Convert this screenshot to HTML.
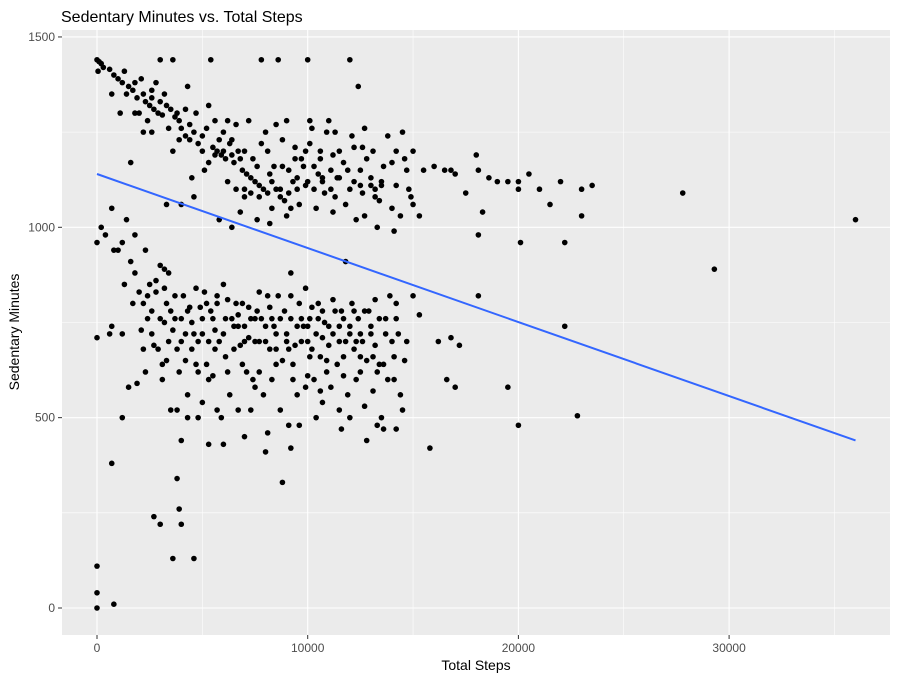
<!DOCTYPE html>
<html><head><meta charset="utf-8"><style>
body{margin:0;background:#fff;}
svg text{font-family:"Liberation Sans",Arial,sans-serif;}
</style></head><body>
<svg id="chart" width="900" height="681" xmlns="http://www.w3.org/2000/svg">
<rect width="900" height="681" fill="#fff"/>
<text x="61" y="22" font-size="16" fill="#000">Sedentary Minutes vs. Total Steps</text>
<rect x="62" y="30" width="828" height="605" fill="#ebebeb"/>
<g id="grid"></g>
<g id="points"></g>
<g id="trend"></g>
<g id="axes"></g>
<text x="476" y="670" font-size="14" text-anchor="middle" fill="#000">Total Steps</text>
<text transform="translate(19,332) rotate(-90)" font-size="14" text-anchor="middle" fill="#000">Sedentary Minutes</text>
</svg>
<script>
const xTicks=[0,10000,20000,30000];
const xMinor=[5000,15000,25000,35000];
const yTicks=[0,500,1000,1500];
const yMinor=[250,750,1250];
const trendStart=[0,1140];
const trendEnd=[36000,440];
const steps=[0,100,200,50,300,600,800,1000,1200,1500,1400,1700,1900,2100,2300,2500,2700,2900,3100,3300,3500,3700,3900,2000,2200,2600,3000,3600,4000,4200,4400,4600,4800,5000,5200,5400,5500,5700,5900,6100,6300,6500,6700,6900,7100,7300,7500,7700,7800,7900,8100,8300,8500,8600,8700,8900,9100,9300,9500,9700,9900,10000,10100,10300,10500,10700,10900,11100,11300,11500,11700,11900,12000,12200,12400,12600,12800,13000,13200,13400,13600,13800,14000,14200,14400,14600,14800,15000,15500,16000,16500,17000,17500,18000,18100,18300,18600,19000,19500,20000,20500,21000,21500,22000,22200,23000,23500,23000,27800,36000,29300,20100,18100,3400,3800,4700,5300,6000,6600,7200,8000,8800,9400,10200,11000,12100,13100,14500,2600,1600,3300,4600,5800,6800,7600,8200,9000,9600,10400,11200,12300,13300,14100,4000,4500,5100,6200,7000,8400,9200,10800,11800,12700,700,1100,1300,1800,2400,3200,4300,5600,6400,7400,8100,9800,10600,11400,12500,13500,14700,15300,16800,20000,
200,0,400,800,1000,1200,700,1400,0,600,700,1200,1300,1600,1800,2000,2200,2400,2600,2800,3000,3200,3400,3600,3800,4000,4200,4400,4600,4800,5000,5200,5400,5600,5800,6000,6200,6400,6600,6800,7000,7200,7400,7600,7800,8000,8200,8400,8600,8800,9000,9200,9400,9600,9800,10000,10200,10400,10600,10800,11000,11200,11400,11600,11800,12000,12200,12400,12600,12800,13000,13200,13400,13600,13800,14000,14200,14400,14600,15000,15300,16200,16600,17000,17200,18100,19500,20000,22200,22800,15800,14200,13600,12800,11600,9200,8800,8000,7000,6000,5300,4800,4000,4600,3600,3000,2700,3900,3800,4000,1200,700,800,0,0,0,1500,1900,2300,2700,3100,3500,3300,4300,5000,5500,5900,6300,6700,7100,7500,7900,8300,8700,9100,9500,9900,10300,10700,11100,11500,11900,12300,12700,13100,13500,14500,2100,2500,2900,3300,3700,4100,4500,4900,5300,5700,6100,6500,6900,7300,7700,8100,8500,8900,9300,9700,10100,10500,10900,11300,11700,12100,12500,12900,13300,13700,14100,14700,1700,2200,2600,3400,4200,5100,5600,6700,7500,8300,9100,9900,10700,11500,12300,13100,13900,16800,3800,14300,10000,
5600,6000,6400,7000,7300,7700,8300,8700,9100,9500,9900,10300,10700,11100,11500,12000,12500,13000,13500,6600,7600,8200,8800,9400,10000,10600,11200,12200,13200,14200,5000,4400,3900,3000,2600,2200,1800,2800,3600,4200,5800,6200,7000,7800,9000,10100,11300,12600,14000,14900,15000,12700,8500,6800,5300,
3000,3500,4000,4500,5000,5500,6000,6500,7000,7500,8000,8500,9000,9500,10000,10500,11000,11500,12000,12500,13000,2400,2800,3200,3700,4300,4700,5200,5700,6200,6700,7200,7700,8200,8700,9200,9700,10200,10700,11200,11700,12200,12700,13200,13700,14200,3100,3900,4700,5300,6100,6900,7700,8500,9300,10100,10900,11700,12500,13400,14100,4300,5700,8100,9600,10400,12000,13300,2300,3200,1800,6400,9200,11800,4800,7300,10600];
const sedentary=[1440,1435,1430,1410,1420,1415,1400,1390,1380,1370,1350,1360,1340,1390,1330,1320,1310,1300,1295,1320,1310,1290,1280,1300,1250,1360,1440,1440,1260,1240,1230,1250,1220,1240,1260,1440,1210,1200,1190,1180,1220,1170,1200,1150,1140,1130,1120,1110,1440,1100,1090,1120,1100,1440,1080,1070,1150,1120,1100,1180,1200,1440,1220,1160,1140,1120,1250,1100,1080,1200,1170,1150,1440,1120,1370,1090,1180,1110,1100,1070,1160,1240,1050,1200,1030,1180,1100,1060,1150,1160,1150,1140,1090,1190,980,1040,1130,1120,1120,1120,1140,1100,1060,1120,960,1100,1110,1030,1090,1020,890,960,1150,1260,1300,1300,1320,1250,1270,1280,1250,1230,1210,1260,1280,1240,1200,1250,1250,1170,1060,1080,1020,1040,1020,1010,1030,1060,1050,1040,1020,1000,990,1060,1130,1150,1120,1080,1160,1050,1090,1060,1030,1350,1300,1410,1300,1280,1350,1370,1280,1230,1180,1200,1160,1180,1130,1110,1120,1150,1030,1150,1100,
1000,960,980,940,940,960,1050,1020,710,720,740,720,850,910,880,830,800,760,780,830,900,750,700,730,680,760,650,790,720,700,760,640,780,730,700,850,620,760,800,690,740,710,600,780,760,700,680,740,820,650,720,760,690,800,740,700,680,720,660,750,690,720,640,780,700,740,680,760,700,650,720,690,760,640,600,700,800,560,650,820,770,700,600,580,690,820,580,480,740,505,420,470,470,440,470,420,330,410,450,430,430,500,440,130,130,220,240,260,340,220,500,380,10,0,40,110,580,590,620,690,600,520,650,560,540,610,500,560,520,620,580,560,600,520,480,560,580,600,540,580,520,560,600,530,570,500,520,730,850,680,800,760,820,680,790,700,820,760,680,800,760,700,820,640,780,640,700,760,800,650,780,610,800,660,780,620,720,660,700,800,680,720,880,720,830,680,740,700,760,680,840,710,740,700,660,820,710,520,720,610,
1190,1200,1190,1100,1090,1080,1050,1100,1090,1130,1110,1100,1130,1150,1130,1100,1150,1130,1110,1100,1160,1140,1160,1180,1120,1200,1190,1210,1080,1110,1200,1270,1230,1330,1340,1350,1380,1380,1200,1310,1230,1280,1200,1220,1280,1280,1250,1210,1170,1080,1200,1260,1270,1180,1170,
760,780,700,750,720,760,720,740,700,760,740,720,700,740,740,760,740,700,720,720,740,820,860,840,820,780,840,800,800,810,770,790,830,790,760,820,760,790,780,810,760,780,780,810,760,760,640,620,640,600,660,640,620,680,600,660,620,660,620,640,600,500,520,460,480,500,500,480,940,890,980,1000,880,910,620,520,570];
const NS="http://www.w3.org/2000/svg";
const PX0=62,PX1=890,PY0=30,PY1=635;
function xScale(v){return 97+v*0.021070;}
function yScale(v){return 608-v*0.3807;}
const grid=document.getElementById('grid');
function line(g,x1,y1,x2,y2,stroke,w){const l=document.createElementNS(NS,'line');l.setAttribute('x1',x1);l.setAttribute('y1',y1);l.setAttribute('x2',x2);l.setAttribute('y2',y2);l.setAttribute('stroke',stroke);l.setAttribute('stroke-width',w);g.appendChild(l);return l;}
yMinor.forEach(v=>{const l=line(grid,PX0,yScale(v),PX1,yScale(v),'#fff',0.55);

});
xMinor.forEach(v=>{const l=line(grid,xScale(v),PY0,xScale(v),PY1,'#fff',0.55);

});
yTicks.forEach(v=>{const l=line(grid,PX0,yScale(v),PX1,yScale(v),'#fff',1.1);

});
xTicks.forEach(v=>{const l=line(grid,xScale(v),PY0,xScale(v),PY1,'#fff',1.1);

});
const axes=document.getElementById('axes');
yTicks.forEach(v=>{const y=yScale(v);const tk=line(axes,58,y,62,y,'#333',1);


const t=document.createElementNS(NS,'text');t.setAttribute('x',55);t.setAttribute('y',y+4);t.setAttribute('text-anchor','end');t.setAttribute('font-size','12');t.setAttribute('fill','#4d4d4d');t.textContent=v;


axes.appendChild(t);});
xTicks.forEach(v=>{const x=xScale(v);const tk=line(axes,x,635,x,639,'#333',1);


const t=document.createElementNS(NS,'text');t.setAttribute('x',x);t.setAttribute('y',652);t.setAttribute('text-anchor','middle');t.setAttribute('font-size','12');t.setAttribute('fill','#4d4d4d');t.textContent=v;


axes.appendChild(t);});
const pts=document.getElementById('points');
const n=Math.min(steps.length,sedentary.length);
for(let i=0;i<n;i++){const c=document.createElementNS(NS,'circle');c.setAttribute('cx',xScale(steps[i]));c.setAttribute('cy',yScale(sedentary[i]));c.setAttribute('r',2.8);c.setAttribute('fill','#000');


pts.appendChild(c);}
const tl=line(document.getElementById('trend'),xScale(trendStart[0]),yScale(trendStart[1]),xScale(trendEnd[0]),yScale(trendEnd[1]),'#3366ff',2);


</script>
</body></html>
